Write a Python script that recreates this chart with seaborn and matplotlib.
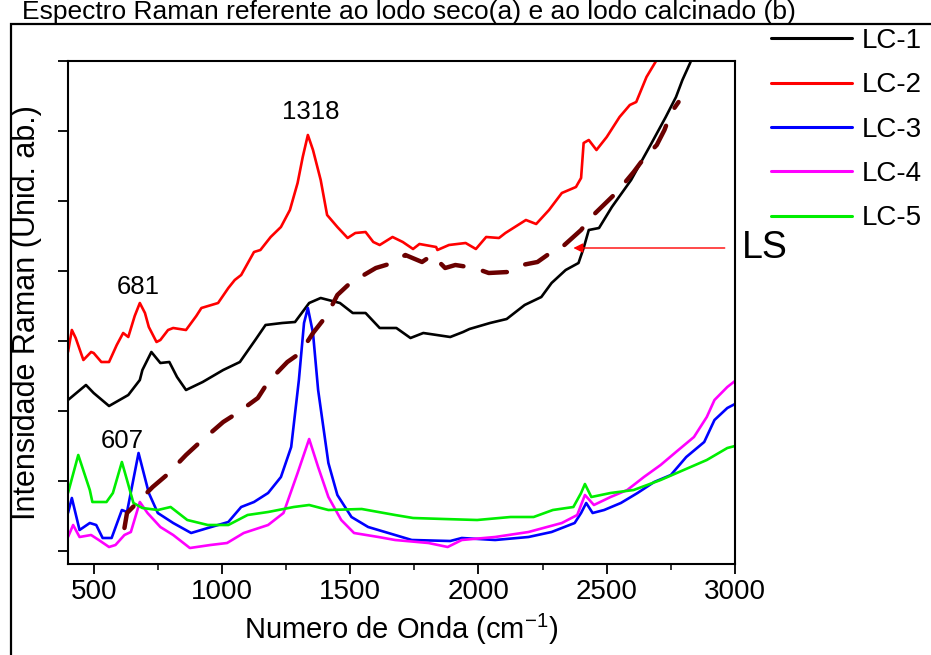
import matplotlib
matplotlib.use("Agg")
import matplotlib.pyplot as plt
import matplotlib.patches as patches
from matplotlib.ticker import MultipleLocator
import seaborn as sns
import pandas as pd

# --------------------------------------------------
# Data (wavenumber cm-1, arbitrary intensity)
# --------------------------------------------------
lc1_x = [400, 470, 500, 560, 635, 680, 690, 725, 760, 795, 825, 860, 925, 1005,
         1070, 1130, 1170, 1235, 1285, 1340, 1385, 1460, 1510, 1560, 1615, 1680,
         1735, 1785, 1890, 1940, 1965, 2045, 2110, 2180, 2245, 2285, 2340, 2390,
         2410, 2430, 2470, 2520, 2595, 2675, 2730, 2770, 2795, 2825, 2850]
lc1_y = [1510, 1660, 1580, 1450, 1560, 1710, 1810, 1990, 1880, 1890, 1740, 1610,
         1690, 1810, 1890, 2110, 2260, 2280, 2290, 2480, 2530, 2480, 2380, 2380,
         2230, 2230, 2130, 2180, 2140, 2190, 2220, 2280, 2320, 2460, 2540, 2680,
         2810, 2880, 3030, 3210, 3230, 3440, 3710, 4080, 4340, 4540, 4710, 4880, 5050]

lc2_x = [400, 415, 430, 460, 490, 500, 530, 560, 590, 615, 635, 660, 680, 700,
         715, 745, 760, 790, 810, 860, 900, 920, 985, 1025, 1050, 1075, 1125,
         1150, 1190, 1230, 1265, 1295, 1315, 1335, 1355, 1385, 1410, 1450, 1490,
         1520, 1560, 1590, 1615, 1665, 1705, 1745, 1770, 1835, 1840, 1885, 1950,
         1990, 2030, 2080, 2105, 2185, 2225, 2275, 2325, 2380, 2400, 2410, 2430,
         2460, 2500, 2550, 2590, 2615, 2655, 2690, 2720]
lc2_y = [1990, 2210, 2130, 1910, 1990, 1980, 1890, 1890, 2060, 2180, 2140, 2350,
         2480, 2380, 2240, 2090, 2110, 2210, 2230, 2210, 2350, 2430, 2480, 2630,
         2710, 2760, 2990, 3010, 3140, 3240, 3410, 3680, 3940, 4160, 4010, 3710,
         3360, 3240, 3130, 3180, 3190, 3090, 3060, 3140, 3090, 3020, 3070, 3040,
         3010, 3060, 3080, 3020, 3140, 3130, 3180, 3310, 3270, 3410, 3580, 3640,
         3730, 4080, 4110, 4010, 4140, 4340, 4460, 4490, 4740, 4890, 5050]

lc3_x = [400, 415, 445, 485, 510, 535, 570, 610, 630, 675, 715, 750, 810, 880,
         945, 1025, 1075, 1125, 1180, 1230, 1270, 1300, 1320, 1335, 1355, 1375,
         1415, 1450, 1505, 1570, 1675, 1740, 1890, 1935, 2065, 2195, 2285, 2375,
         2400, 2420, 2445, 2490, 2555, 2620, 2685, 2750, 2810, 2880, 2920, 2970, 3000]
lc3_y = [380, 530, 210, 280, 260, 130, 130, 410, 390, 980, 580, 380, 280, 180,
         230, 290, 440, 490, 580, 740, 1040, 1710, 2280, 2430, 2180, 1610, 880,
         560, 340, 240, 160, 110, 100, 130, 110, 140, 190, 280, 380, 480, 380,
         410, 480, 580, 690, 760, 940, 1090, 1310, 1430, 1470]

lc4_x = [400, 420, 445, 490, 520, 560, 585, 620, 645, 680, 710, 760, 810, 875,
         955, 1020, 1085, 1180, 1240, 1295, 1340, 1375, 1415, 1465, 1515, 1610,
         1675, 1805, 1880, 1935, 2065, 2195, 2325, 2385, 2415, 2450, 2515, 2580,
         2645, 2710, 2770, 2840, 2890, 2920, 2970, 3000]
lc4_y = [140, 260, 140, 160, 110, 40, 60, 160, 190, 490, 380, 240, 160, 30, 60,
         80, 180, 260, 380, 780, 1120, 840, 540, 310, 180, 140, 110, 80, 40, 110,
         140, 190, 280, 360, 560, 460, 540, 610, 740, 860, 990, 1140, 1340, 1510,
         1640, 1700]

lc5_x = [400, 440, 485, 495, 550, 575, 610, 630, 655, 690, 750, 800, 865, 945,
         1025, 1100, 1180, 1280, 1340, 1415, 1545, 1675, 1745, 1865, 1995, 2125,
         2215, 2290, 2370, 2400, 2415, 2440, 2515, 2605, 2710, 2800, 2890, 2970, 3000]
lc5_y = [580, 960, 610, 490, 490, 580, 890, 710, 480, 430, 410, 440, 310, 260,
         260, 360, 390, 440, 460, 410, 420, 360, 330, 320, 310, 340, 340, 410,
         440, 580, 670, 540, 580, 610, 710, 810, 910, 1030, 1050]

ls_x = [620, 630, 730, 785, 860, 915, 1005, 1060, 1140, 1180, 1255, 1305, 1355,
        1410, 1450, 1500, 1600, 1665, 1715, 1780, 1820, 1870, 1910, 1985, 2040,
        2115, 2170, 2230, 2285, 2335, 2400, 2440, 2500, 2540, 2605, 2640, 2695,
        2725, 2750, 2780]
ls_y = [230, 380, 640, 760, 960, 1090, 1290, 1380, 1530, 1690, 1890, 1980, 2180,
        2360, 2560, 2680, 2830, 2880, 2960, 2890, 2960, 2830, 2860, 2830, 2780,
        2790, 2860, 2890, 2990, 3060, 3210, 3340, 3490, 3590, 3790, 3910, 4060,
        4210, 4380, 4490]

series_names = ["LC-1", "LC-2", "LC-3", "LC-4", "LC-5"]
series_colors = ["#000000", "#ff0000", "#0000ff", "#ff00ff", "#00ee00"]
series_data = [(lc1_x, lc1_y), (lc2_x, lc2_y), (lc3_x, lc3_y),
               (lc4_x, lc4_y), (lc5_x, lc5_y)]

peak_labels = ["1318", "681", "607"]
peak_pos = [(1348, 4390), (673, 2640), (611, 1100)]

# --------------------------------------------------
# Style
# --------------------------------------------------
sns.set_style("ticks")
plt.rcParams["font.family"] = ["Liberation Sans", "DejaVu Sans"]
plt.rcParams["mathtext.fontset"] = "custom"
plt.rcParams["mathtext.rm"] = "Liberation Sans"
plt.rcParams["mathtext.it"] = "Liberation Sans"
plt.rcParams["text.color"] = "black"
plt.rcParams["axes.labelcolor"] = "black"

fig = plt.figure(figsize=(9.31, 6.55), dpi=100)
ax = fig.add_axes([68 / 931, 1 - 564 / 655, (735 - 68) / 931, (564 - 61) / 655])

for name, color, (xs, ys) in zip(series_names, series_colors, series_data):
    df = pd.DataFrame({"x": xs, "y": ys})
    sns.lineplot(data=df, x="x", y="y", ax=ax, color=color, lw=1.9,
                 label=name, sort=True, estimator=None)

ls_df = pd.DataFrame({"x": ls_x, "y": ls_y})
sns.lineplot(data=ls_df, x="x", y="y", ax=ax, color="#6b0000", lw=3.2,
             estimator=None, legend=False, dashes=False)
ax.lines[-1].set_dashes((5.5, 4.5))
ax.lines[-1].set_dash_capstyle("round")

for txt, (px, py) in zip(peak_labels, peak_pos):
    ax.text(px, py, txt, fontsize=18.5, ha="center", va="center")

# arrow pointing to the LS curve
ax.annotate("", xy=(2370, 3030), xytext=(2960, 3030),
            arrowprops=dict(arrowstyle="-|>", color="#ff0000", lw=1.0,
                            mutation_scale=14, shrinkA=0, shrinkB=0))
ax.text(1.01, (3030 + 130) / 5030, "LS", transform=ax.transAxes,
        fontsize=27, ha="left", va="center", clip_on=False)

ax.set_xlim(400, 3000)
ax.set_ylim(-130, 4900)
ax.xaxis.set_major_locator(MultipleLocator(500))
ax.xaxis.set_minor_locator(MultipleLocator(250))
ax.yaxis.set_major_locator(MultipleLocator(700))
ax.set_yticklabels([])
ax.tick_params(axis="both", which="major", direction="out", length=7, width=1.3,
               labelsize=20, colors="black")
ax.tick_params(axis="x", which="minor", direction="out", length=4, width=1.1,
               colors="black")
for sp in ax.spines.values():
    sp.set_linewidth(1.5)
    sp.set_color("black")

ax.set_xlabel("Numero de Onda (cm$^{\\mathregular{-1}}$)", fontsize=21, labelpad=5)
ax.set_ylabel("Intensidade Raman (Unid. ab.)", fontsize=22, labelpad=8)

leg = ax.legend(loc="upper left", bbox_to_anchor=(771 / 931, 1 - 28 / 655),
                bbox_transform=fig.transFigure, frameon=False, fontsize=20,
                handlelength=2.9, handletextpad=0.35, labelspacing=0.66,
                borderpad=0, borderaxespad=0)
for h in leg.get_lines():
    h.set_linewidth(2.2)

# outer frame (cut by the image edge) and title
fig.patches.append(patches.Rectangle((11 / 931, -0.2), 1.2, 1 - 24 / 655 + 0.2,
                                     transform=fig.transFigure, fill=False,
                                     lw=1.6, edgecolor="black"))
fig.text(22 / 931, 1 - 19 / 655,
         "Espectro Raman referente ao lodo seco(a) e ao lodo calcinado (b)",
         fontsize=19, ha="left", va="baseline")

fig.savefig("out.png", dpi=100)
